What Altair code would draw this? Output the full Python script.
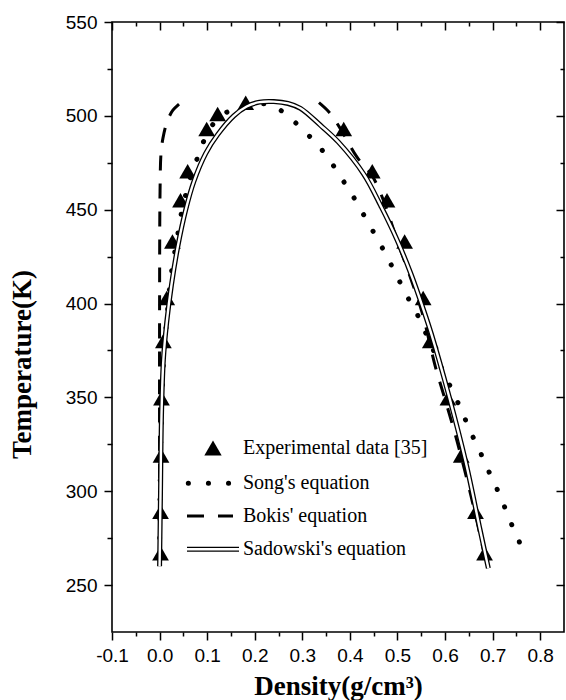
import altair as alt
import pandas as pd

series_names = ["Experimental data [35]", "Song's equation", "Bokis' equation", "Sadowski's equation"]

# Experimental data [35]
exp_density = [0.002, 0.002, 0.003, 0.004, 0.008, 0.015, 0.027, 0.044, 0.059, 0.099, 0.122, 0.181,
               0.387, 0.447, 0.478, 0.515, 0.554, 0.569, 0.606, 0.634, 0.664, 0.683]
exp_temp = [267, 289, 319, 349.5, 380, 403, 433, 455, 470.5, 493, 501, 507,
            493, 470.5, 455, 433, 403, 380, 349.5, 319, 289, 267]

# Song's equation
song_density = [0.000, 0.001, 0.005, 0.010, 0.016, 0.023, 0.029, 0.041, 0.048, 0.057,
                0.062, 0.076, 0.090, 0.120, 0.150, 0.190, 0.233, 0.268, 0.301, 0.331,
                0.363, 0.387, 0.400, 0.422, 0.443, 0.464, 0.484, 0.503, 0.522, 0.543,
                0.559, 0.590, 0.622, 0.638, 0.653, 0.671, 0.688, 0.706, 0.722, 0.737,
                0.754, 0.767]
song_temp = [265, 300, 350, 376, 394, 413, 423, 441, 451, 460,
             465, 475, 485, 498, 503, 506, 505.8, 500.4, 492.5, 485,
             474.3, 465, 460, 450.4, 441, 431.6, 422, 412.5, 403.1, 393.5,
             384.5, 367, 350, 341, 332, 322.5, 312.7, 303, 293.6, 284,
             274.4, 265]

# Bokis' equation (vapour and liquid branches)
bokis_vap_density = [0.000, 0.000, 0.001, 0.003, 0.007, 0.016, 0.028, 0.044]
bokis_vap_temp = [262, 400, 460, 480, 488, 497, 503, 507]
bokis_liq_density = [0.335, 0.356, 0.378, 0.415, 0.447, 0.475, 0.500, 0.527, 0.552,
                     0.580, 0.600, 0.627, 0.655, 0.675, 0.688]
bokis_liq_temp = [507, 502, 494, 478, 468, 452, 433, 414, 395, 366, 349, 325, 297, 275, 260]

# Sadowski's equation
sad_density = [0.000, 0.002, 0.004, 0.008, 0.015, 0.025, 0.038, 0.055, 0.072, 0.097,
               0.122, 0.156, 0.183, 0.210, 0.240, 0.270, 0.296, 0.338, 0.376, 0.429,
               0.465, 0.499, 0.528, 0.553, 0.571, 0.609, 0.644, 0.674, 0.691]
sad_temp = [260, 300, 340, 370, 390, 410, 430, 450, 465, 480,
            490, 500, 505, 507.3, 507.6, 506.6, 504, 495, 486, 469,
            452, 434, 416, 398, 384, 350, 315, 279, 259]

x_major = [-0.1, 0.0, 0.1, 0.2, 0.3, 0.4, 0.5, 0.6, 0.7, 0.8]
x_minor = [-0.05, 0.05, 0.15, 0.25, 0.35, 0.45, 0.55, 0.65, 0.75]
y_major = [250, 300, 350, 400, 450, 500, 550]
y_minor = [275, 325, 375, 425, 475, 525]

exp_df = pd.DataFrame({"density": exp_density, "temperature": exp_temp})
song_df = pd.DataFrame({"density": song_density, "temperature": song_temp,
                        "i": list(range(len(song_density)))})
bokis_df = pd.concat([
    pd.DataFrame({"density": bokis_vap_density, "temperature": bokis_vap_temp,
                  "i": list(range(len(bokis_vap_density))), "branch": "vapour"}),
    pd.DataFrame({"density": bokis_liq_density, "temperature": bokis_liq_temp,
                  "i": list(range(len(bokis_liq_density))), "branch": "liquid"}),
])
sad_df = pd.DataFrame({"density": sad_density, "temperature": sad_temp,
                       "i": list(range(len(sad_density)))})

XS = alt.Scale(domain=[-0.1, 0.85], nice=False, zero=False)
YS = alt.Scale(domain=[225, 550], nice=False, zero=False)

LABEL_FONT = "Liberation Sans"
SERIF = "Liberation Serif"

common_axis = dict(domain=False, grid=False, tickColor="black", tickWidth=1.5)

x_main = alt.Axis(orient="bottom", values=x_major, tickSize=8, labelPadding=6,
                  labelExpr="datum.value < 0 ? '-' + format(-datum.value, '.1f') : format(datum.value, '.1f')",
                  labelFont=LABEL_FONT, labelFontSize=19, labelColor="black",
                  labelFlush=False, labelOverlap=False,
                  title="Density(g/cm³)", titleFont=SERIF, titleFontSize=27,
                  titleFontWeight="bold", titleColor="black", titleX=226, titleY=62,
                  titleAlign="center", titleBaseline="alphabetic", **common_axis)
y_main = alt.Axis(orient="left", values=y_major, tickSize=8, labelPadding=7, format="d",
                  labelFont=LABEL_FONT, labelFontSize=19, labelColor="black",
                  labelFlush=False, labelOverlap=False,
                  title="Temperature(K)", titleFont=SERIF, titleFontSize=27,
                  titleFontWeight="bold", titleColor="black", titleAngle=270,
                  titleX=-82, titleY=342, titleAlign="center", titleBaseline="alphabetic",
                  **common_axis)
x_bottom_minor = alt.Axis(orient="bottom", values=x_minor, tickSize=4, labels=False,
                          title=None, **common_axis)
y_left_minor = alt.Axis(orient="left", values=y_minor, tickSize=5, labels=False,
                        title=None, **common_axis)
x_top_major = alt.Axis(orient="top", values=x_major, tickSize=8, offset=-8, labels=False,
                       title=None, **common_axis)
y_right_major = alt.Axis(orient="right", values=y_major, tickSize=8, offset=-8, labels=False,
                         title=None, **common_axis)
x_top_minor = alt.Axis(orient="top", values=x_minor, tickSize=4, offset=-4, labels=False,
                       title=None, **common_axis)
y_right_minor = alt.Axis(orient="right", values=y_minor, tickSize=4, offset=-4, labels=False,
                         title=None, **common_axis)

song = alt.Chart(song_df).mark_line(
    color="black", strokeWidth=5, strokeDash=[0.1, 19], strokeCap="round",
    interpolate="catmull-rom"
).encode(
    x=alt.X("density:Q", scale=XS, axis=x_main),
    y=alt.Y("temperature:Q", scale=YS, axis=y_main),
    order="i:Q",
)

bokis = alt.Chart(bokis_df).mark_line(
    color="black", strokeWidth=3, strokeDash=[15, 13], interpolate="catmull-rom"
).encode(
    x=alt.X("density:Q", scale=XS, axis=x_bottom_minor),
    y=alt.Y("temperature:Q", scale=YS, axis=y_left_minor),
    detail="branch:N",
    order="i:Q",
)

exp = alt.Chart(exp_df).mark_point(
    shape="triangle-up", filled=True, color="black", opacity=1, size=280
).encode(
    x=alt.X("density:Q", scale=XS, axis=x_top_major),
    y=alt.Y("temperature:Q", scale=YS, axis=y_right_major),
)

sad_black = alt.Chart(sad_df).mark_line(
    color="black", strokeWidth=5, interpolate="catmull-rom"
).encode(
    x=alt.X("density:Q", scale=XS, axis=x_top_minor),
    y=alt.Y("temperature:Q", scale=YS, axis=y_right_minor),
    order="i:Q",
)
sad_white = alt.Chart(sad_df).mark_line(
    color="white", strokeWidth=2.4, interpolate="catmull-rom"
).encode(
    x=alt.X("density:Q", scale=XS, axis=None),
    y=alt.Y("temperature:Q", scale=YS, axis=None),
    order="i:Q",
)

one = pd.DataFrame({"k": [0]})
rows_y = [426, 461.3, 494, 527.3]
text_x = 131

leg_tri = alt.Chart(one).mark_point(
    shape="triangle-up", filled=True, color="black", opacity=1, size=300
).encode(x=alt.value(101), y=alt.value(rows_y[0]))
leg_song = alt.Chart(one).mark_rule(
    color="black", strokeWidth=5, strokeDash=[0.1, 20], strokeCap="round"
).encode(x=alt.value(76.3), x2=alt.value(116.6), y=alt.value(rows_y[1]))
leg_bokis = alt.Chart(one).mark_rule(
    color="black", strokeWidth=3, strokeDash=[17, 14]
).encode(x=alt.value(75), x2=alt.value(121), y=alt.value(rows_y[2]))
leg_sad_b = alt.Chart(one).mark_rule(color="black", strokeWidth=5).encode(
    x=alt.value(75), x2=alt.value(127), y=alt.value(rows_y[3]))
leg_sad_w = alt.Chart(one).mark_rule(color="white", strokeWidth=2.4).encode(
    x=alt.value(75), x2=alt.value(127), y=alt.value(rows_y[3]))

leg_texts = [
    alt.Chart(one).mark_text(
        font=SERIF, fontSize=20, color="black", align="left", baseline="middle"
    ).encode(x=alt.value(text_x), y=alt.value(rows_y[k]), text=alt.value(series_names[k]))
    for k in range(4)
]

chart = alt.layer(
    song, bokis, exp, sad_black, sad_white,
    leg_tri, leg_song, leg_bokis, leg_sad_b, leg_sad_w, *leg_texts
).resolve_axis(
    x="independent", y="independent"
).properties(
    width=452, height=610,
    autosize=alt.AutoSizeParams(type="none"),
    padding={"left": 112, "top": 22, "right": 2, "bottom": 68},
    background="white",
).configure_view(
    stroke="black", strokeWidth=1.6
)

chart.save("out.html", embed_options={"renderer": "svg", "actions": False})
